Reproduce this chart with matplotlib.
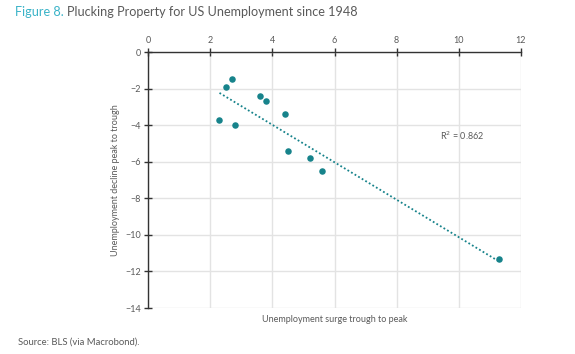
import matplotlib
matplotlib.use("Agg")
import matplotlib.pyplot as plt
import numpy as np

# surge trough->peak vs decline peak->trough (pp)
surge = [2.3, 2.5, 2.7, 2.8, 3.6, 3.8, 4.4, 4.5, 5.2, 5.6, 11.3]
decline = [-3.7, -1.9, -1.5, -4.0, -2.4, -2.7, -3.4, -5.4, -5.8, -6.5, -11.3]
xticks = [0, 2, 4, 6, 8, 10, 12]
yticks = [0, -2, -4, -6, -8, -10, -12, -14]
r2_label = "R$^2$ = 0.862"

plt.rcParams['font.family'] = ['Lato', 'DejaVu Sans']
grey = '#5a5a5a'
teal = '#17838b'

fig = plt.figure(figsize=(5.75, 3.54), dpi=100)
ax = fig.add_axes([148/575, 1-308/354, (521-148)/575, (308-52)/354])

ax.scatter(surge, decline, s=22, color=teal, zorder=3, linewidths=0)

# linear trend
k, b = np.polyfit(surge, decline, 1)
xs = np.array([min(surge), max(surge)])
ax.plot(xs, k*xs + b, color=teal, lw=1.3, ls=(0, (1, 1.3)), zorder=2)

ax.text(9.4, -4.6, r2_label, fontsize=6.5, color=grey, va='center')

ax.set_xlim(0, 12)
ax.set_ylim(-14, 0)
ax.set_xticks(xticks)
ax.set_yticks(yticks)
ax.xaxis.tick_top()
ax.grid(True, color='#e3e3e3', lw=1)
ax.set_axisbelow(True)
for s in ['right', 'bottom']:
    ax.spines[s].set_visible(False)
for s in ['top', 'left']:
    ax.spines[s].set_color('#333333')
    ax.spines[s].set_linewidth(1)
ax.tick_params(axis='both', direction='inout', length=6, width=1, color='#333333',
               labelsize=6.5, labelcolor=grey, pad=2)

ax.set_xlabel('Unemployment surge trough to peak', fontsize=6.5, color=grey, labelpad=5)
ax.xaxis.set_label_position('bottom')
ax.set_ylabel('Unemployment decline peak to trough', fontsize=6.5, color=grey, labelpad=4)

# title in two colours, second part placed after the first
t1 = fig.text(0.026, 0.965, 'Figure 8.', fontsize=9.1, color='#3ab3c8', va='center')
fig.canvas.draw()
bb = t1.get_window_extent().transformed(fig.transFigure.inverted())
fig.text(bb.x1 + 0.006, 0.965, 'Plucking Property for US Unemployment since 1948', fontsize=9.1,
         color=grey, va='center')
fig.text(0.031, 0.02, 'Source: BLS (via Macrobond).', fontsize=6.8, color=grey, va='bottom')

fig.savefig('out.png', dpi=100)
